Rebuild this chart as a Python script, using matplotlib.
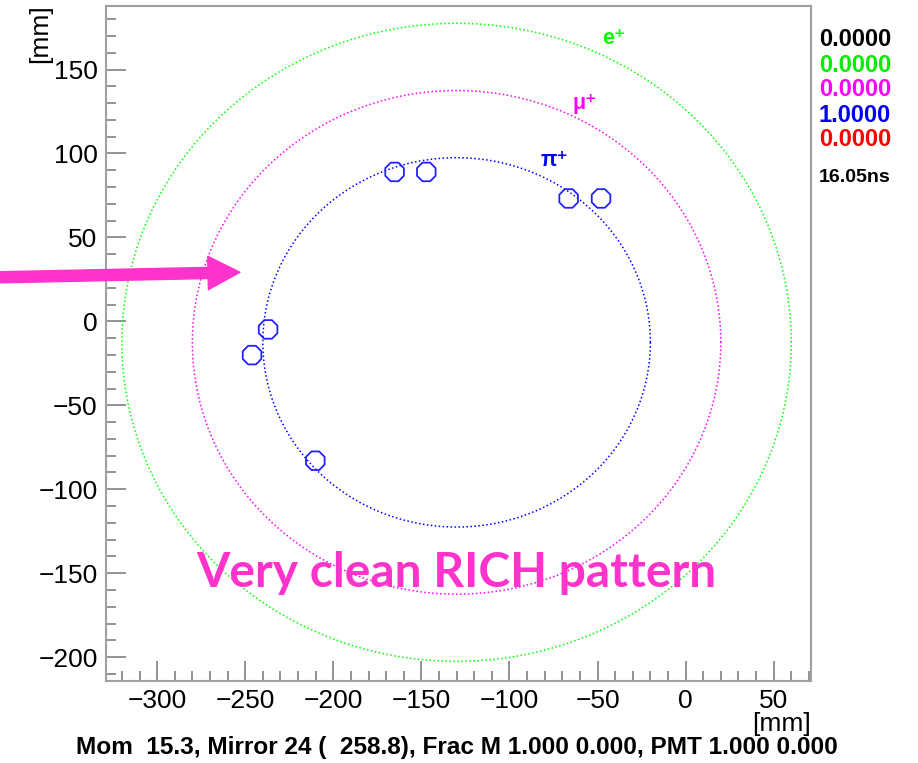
import matplotlib
matplotlib.use('Agg')
import matplotlib.pyplot as plt
import numpy as np
from matplotlib.patches import FancyArrowPatch
from matplotlib.ticker import MultipleLocator

plt.rcParams['font.family'] = ['Liberation Sans', 'DejaVu Sans']

# ring fit (common centre) and radii for each hypothesis
ring_center = (-130.0, -12.5)
ring_names = ['e⁺', 'μ⁺', 'π⁺']
ring_radii = [190.0, 150.0, 110.0]
ring_colors = ['#00ff00', '#ff00ff', '#0000ff']
label_x = [-40.5, -57.5, -74.5]
label_y = [168.6, 129.9, 96.0]

# PMT hits [mm]
hit_x = [-165.2, -147.2, -66.4, -48.0, -237.0, -246.1, -210.2]
hit_y = [89.0, 89.0, 73.2, 73.2, -4.8, -20.1, -83.0]

# likelihood fractions shown at the right
frac_vals = ['0.0000', '0.0000', '0.0000', '1.0000', '0.0000']
frac_colors = ['black', '#00ee00', '#ff00ff', '#0000ff', '#ff0000']
time_text = '16.05ns'
info_text = 'Mom  15.3, Mirror 24 (  258.8), Frac M 1.000 0.000, PMT 1.000 0.000'

fig = plt.figure(figsize=(9.18, 7.63), dpi=100)
ax = fig.add_axes([0.1155, 0.1079, 0.7676, 0.8846])

t = np.linspace(0, 2 * np.pi, 600)
for r, c, name, lx, ly in zip(ring_radii, ring_colors, ring_names, label_x, label_y):
    ax.plot(ring_center[0] + r * np.cos(t), ring_center[1] + r * np.sin(t),
            color=c, lw=1.1, ls=(0, (1, 1.6)), zorder=2)
    ax.text(lx, ly, name, color=c, fontsize=15.5, fontweight='bold',
            ha='center', va='center', zorder=4)

ax.scatter(hit_x, hit_y, s=210, marker='8', facecolors='none',
           edgecolors='#2222ff', linewidths=1.3, zorder=3)

ax.set_xlim(-329, 71)
ax.set_ylim(-214, 188)
ax.xaxis.set_major_locator(MultipleLocator(50))
ax.xaxis.set_minor_locator(MultipleLocator(10))
ax.yaxis.set_major_locator(MultipleLocator(50))
ax.yaxis.set_minor_locator(MultipleLocator(10))
ax.tick_params(which='both', direction='in', color='#8a8a8a', width=1.3,
               top=False, right=False, labelsize=19)
ax.tick_params(which='major', length=14.4, pad=6)
ax.tick_params(which='minor', length=7.2)
for s in ax.spines.values():
    s.set_color('#a0a0a0')
    s.set_linewidth(1.5)

fig.text(0.044, 0.994, '[mm]', rotation=90, ha='center', va='top', fontsize=19)
fig.text(0.8831, 0.051, '[mm]', ha='right', va='center', fontsize=19)

ypix = [40, 65, 90, 115, 140]
for v, c, yp in zip(frac_vals, frac_colors, ypix):
    fig.text(0.892, 1 - yp / 763, v, color=c, fontsize=17, fontweight='bold',
             ha='left', va='center')
fig.text(0.892, 1 - 178 / 763, time_text, color='black', fontsize=14,
         fontweight='bold', ha='left', va='center')

fig.text(0.498, 0.0197, info_text, ha='center', va='center', fontsize=17.6,
         fontweight='bold')

fig.text(0.4967, 0.2307, 'Very clean RICH pattern', color='#ff33cc',
         fontsize=34.6, fontweight='bold', family='Lato', ha='center',
         va='baseline', zorder=1)

arrow = FancyArrowPatch((0.0, 1 - 277.3 / 763), (240 / 918, 1 - 272.3 / 763),
                        transform=fig.transFigure, color='#ff33cc',
                        arrowstyle='simple,head_length=2.3,head_width=2.4,tail_width=0.8',
                        mutation_scale=10, shrinkA=0, shrinkB=0)
fig.add_artist(arrow)

fig.savefig('out.png', dpi=100)
